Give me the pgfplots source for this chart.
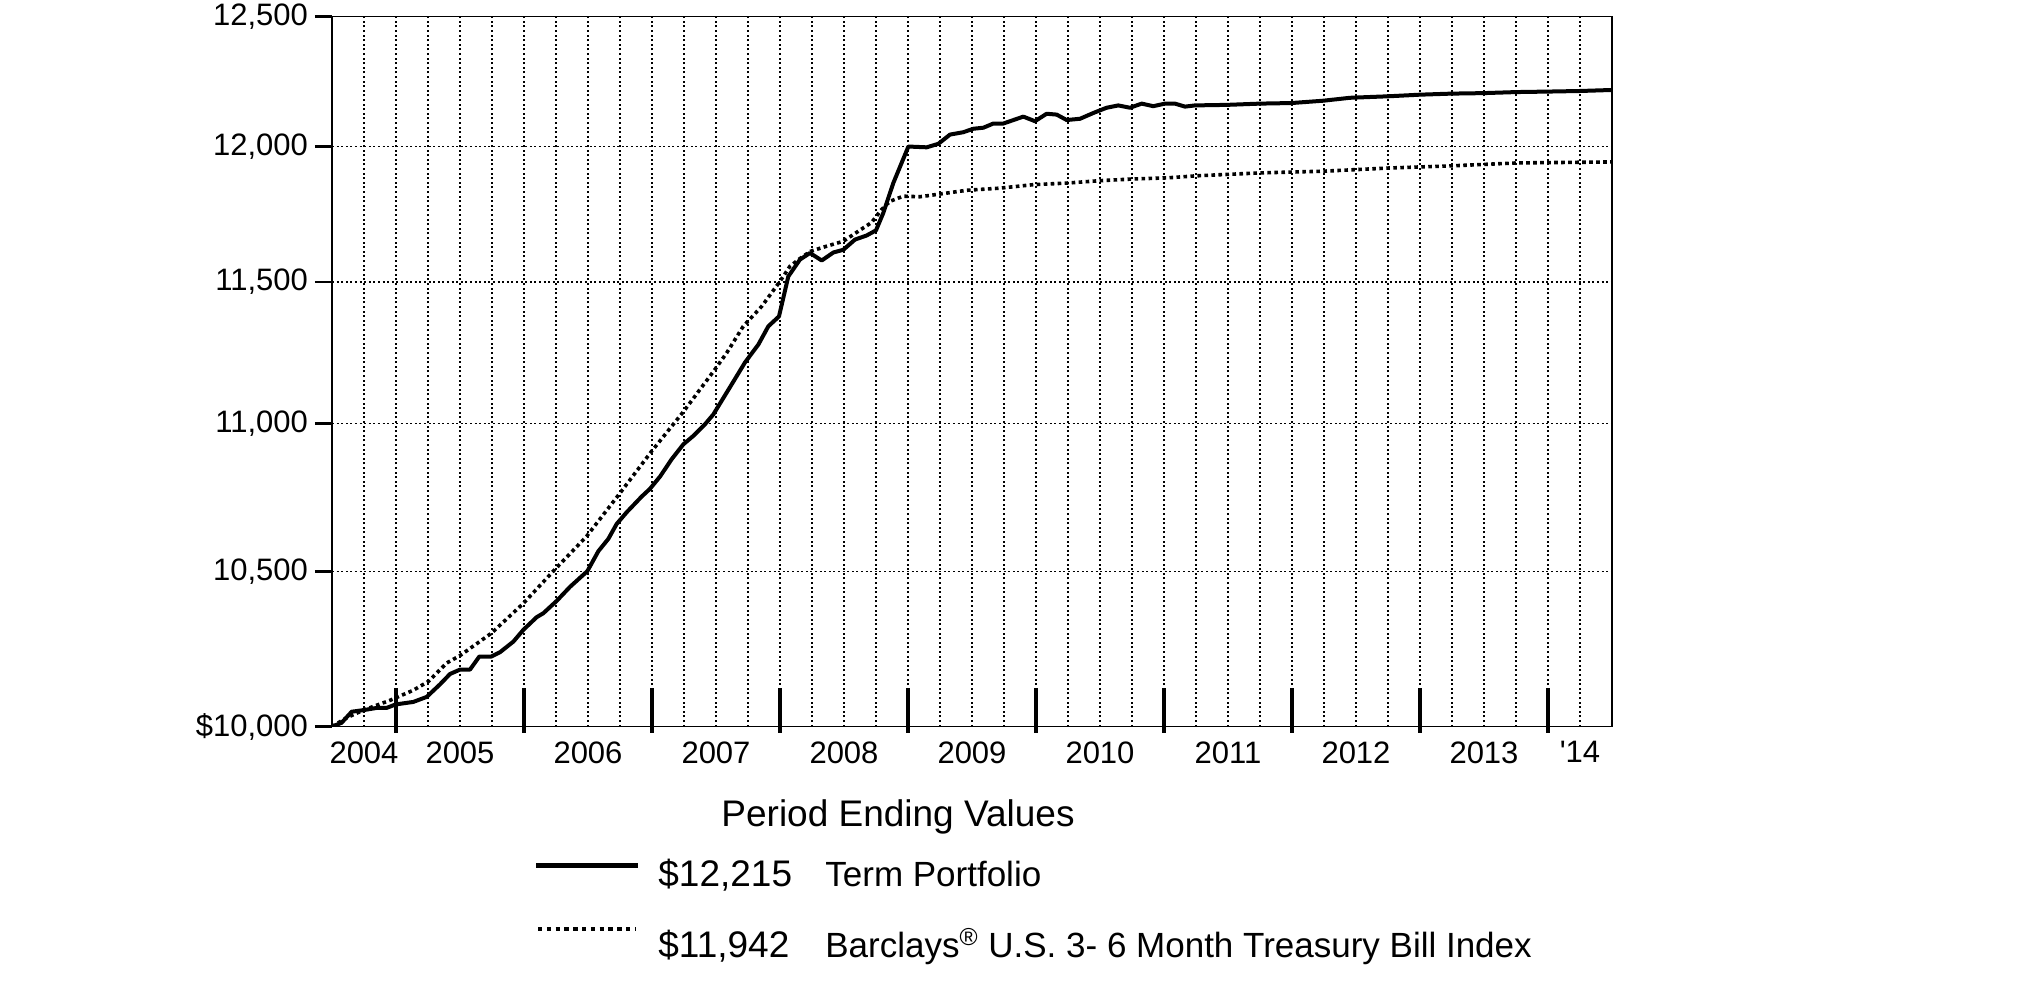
\documentclass[border=0pt]{standalone}
\usepackage{pgfplots}
\pgfplotsset{compat=1.18}
\usepackage{fontspec}
\setmainfont{Liberation Sans}
\begin{document}
\begin{tikzpicture}
\path[use as bounding box] (-166pt,-136pt) rectangle (846.5pt,363.5pt);
\begin{axis}[
  at={(0,0)}, anchor=south west, scale only axis,
  width=640pt, height=355pt,
  xmin=0, xmax=10, ymode=log, ymin=10000, ymax=12500,
  ytick={10000,10500,11000,11500,12000,12500},
  yticklabels={{\$10,000},{10,500},{11,000},{11,500},{12,000},{12,500}},
  xtick={0.25,1,2,3,4,5,6,7,8,9,9.75},
  xticklabels={2004,2005,2006,2007,2008,2009,2010,2011,2012,2013,{\textquotesingle14}},
  minor xtick={0.25,0.5,...,9.75},
  xminorgrids=true, ymajorgrids=true, xmajorgrids=false,
  minor grid style={black, line width=0.55pt, dash pattern=on 1pt off 1.3pt},
  major grid style={black, line width=0.55pt, dash pattern=on 1pt off 1.3pt},
  xtick style={draw=none}, minor tick length=0pt,
  ytick pos=left, xtick pos=left,
  tick align=outside, major tick length=8.5pt,
  ytick style={line width=1.2pt, black},
  axis line style={line width=0.6pt, black},
  ticklabel style={font=\fontsize{15.5}{18}\selectfont},
  xticklabel style={yshift=4.5pt},
  /pgf/number format/assume math mode=true,
]
\addplot[black, line width=1.8pt, dash pattern=on 1.8pt off 1.7pt] table {
x y
0.000 10000
0.115 10028
0.245 10052
0.453 10083
0.635 10115
0.753 10143
0.896 10202
1.000 10226
1.245 10298
1.495 10395
1.729 10501
1.990 10617
2.245 10759
2.495 10903
2.745 11040
2.990 11187
3.083 11246
3.213 11341
3.357 11412
3.500 11502
3.578 11557
3.656 11585
3.737 11611
3.865 11630
3.995 11648
4.112 11685
4.216 11717
4.294 11765
4.359 11795
4.463 11814
4.594 11812
4.750 11822
4.958 11836
5.219 11844
5.479 11857
5.740 11863
6.000 11872
6.260 11878
6.520 11882
6.755 11890
7.250 11901
7.745 11907
8.253 11919
8.747 11927
9.255 11938
10.000 11942
};
\addplot[black, line width=2pt, line join=round] table {
x y
0.000 10000
0.075 10012
0.154 10047
0.245 10052
0.349 10059
0.427 10059
0.497 10070
0.635 10078
0.740 10094
0.844 10134
0.922 10167
1.000 10181
1.078 10181
1.151 10223
1.245 10223
1.313 10237
1.417 10271
1.495 10309
1.599 10350
1.651 10363
1.755 10403
1.859 10449
1.995 10501
2.081 10567
2.159 10608
2.224 10658
2.302 10697
2.419 10750
2.484 10776
2.563 10818
2.654 10877
2.745 10928
2.823 10957
2.914 10997
2.979 11031
3.109 11126
3.227 11213
3.331 11276
3.409 11341
3.492 11376
3.565 11520
3.656 11581
3.734 11605
3.826 11578
3.917 11607
3.995 11617
4.086 11654
4.177 11669
4.250 11688
4.307 11752
4.385 11863
4.503 12000
4.646 11997
4.737 12010
4.828 12045
4.932 12054
5.010 12067
5.089 12071
5.167 12087
5.245 12087
5.401 12113
5.492 12096
5.583 12124
5.661 12121
5.740 12100
5.844 12105
5.948 12127
6.052 12147
6.143 12156
6.234 12147
6.326 12163
6.416 12153
6.508 12163
6.586 12163
6.664 12151
6.742 12156
6.990 12158
7.250 12163
7.497 12165
7.745 12174
7.953 12185
8.253 12191
8.500 12197
8.747 12201
8.995 12203
9.255 12207
9.503 12209
9.750 12211
10.000 12215
};
\end{axis}
\begin{axis}[
  at={(0,0)}, anchor=south west, scale only axis,
  width=640pt, height=355pt,
  xmin=0, xmax=10, ymin=0, ymax=1,
  axis line style={draw=none},
  ytick=\empty, xtick={0.5,1.5,...,9.5}, xticklabels={},
  xtick pos=left, tick align=inside, major tick length=22.5pt,
  xtick style={line width=2pt, black, yshift=-3pt},
]
\end{axis}
\node[anchor=base, inner sep=0, font=\fontsize{18.5}{22}\selectfont] at (283pt,-50pt) {Period Ending Values};
\draw[black, line width=2.5pt] (102pt,-69.4pt) -- (153pt,-69.4pt);
\draw[black, line width=1.8pt, dash pattern=on 2.2pt off 2.2pt] (103pt,-101pt) -- (151.5pt,-101pt);
\node[anchor=base west, inner sep=0, font=\fontsize{18.5}{21}\selectfont] at (163pt,-79.7pt) {\$12,215};
\node[anchor=base west, inner sep=0, font=\fontsize{17.5}{21}\selectfont] at (246.5pt,-79.7pt) {Term Portfolio};
\node[anchor=base west, inner sep=0, font=\fontsize{18.5}{21}\selectfont] at (163pt,-115.5pt) {\$11,942};
\node[anchor=base west, inner sep=0, font=\fontsize{17.5}{21}\selectfont] at (246.5pt,-115.5pt) {Barclays\textsuperscript{\textregistered} U.S. 3- 6 Month Treasury Bill Index};
\end{tikzpicture}
\end{document}
